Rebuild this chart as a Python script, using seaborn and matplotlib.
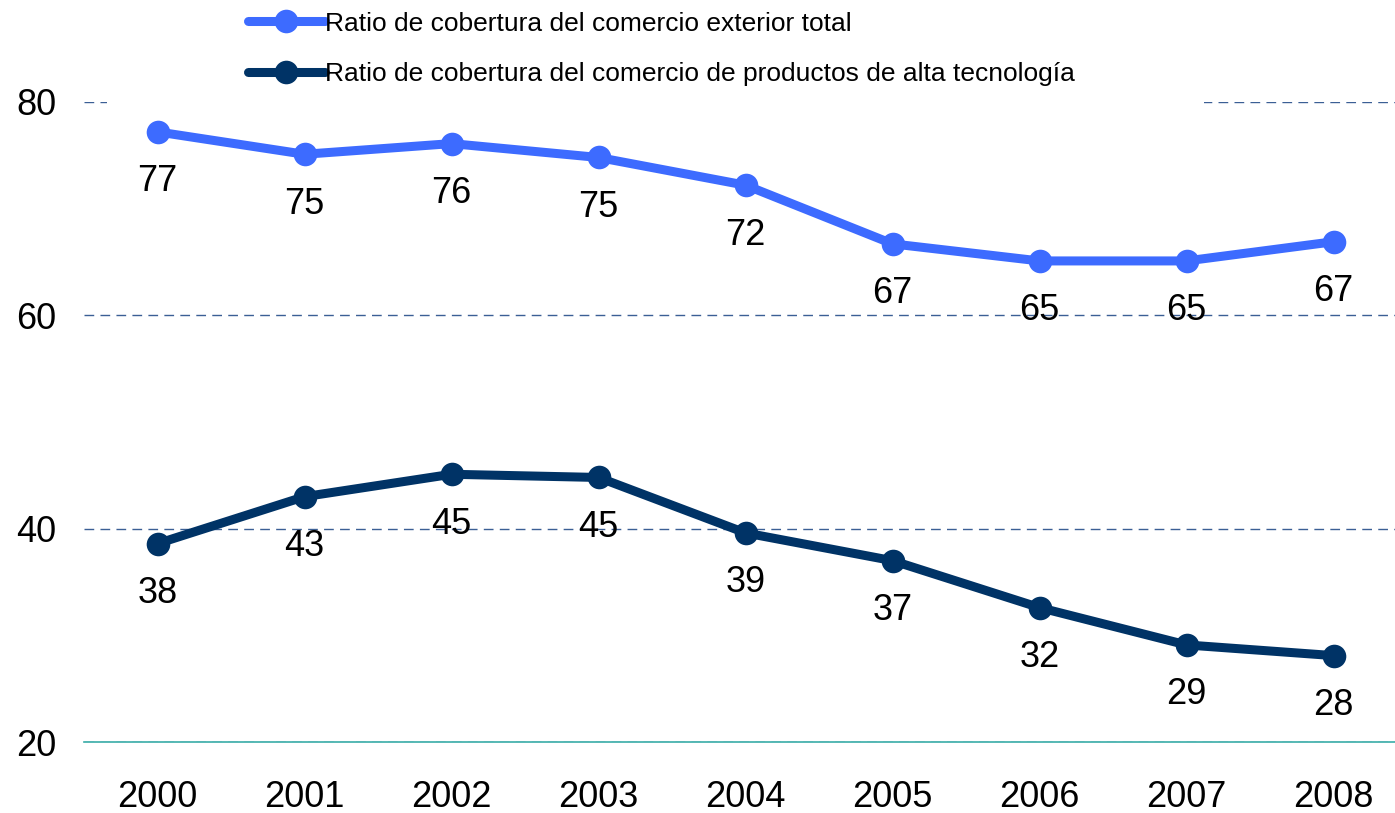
import matplotlib
matplotlib.use('Agg')
import matplotlib.pyplot as plt
from matplotlib.patches import Rectangle
import seaborn as sns
import pandas as pd

# datos
years = ['2000', '2001', '2002', '2003', '2004', '2005', '2006', '2007', '2008']
total = [77.2, 75.1, 76.1, 74.8, 72.2, 66.7, 65.1, 65.1, 66.9]
alta_tec = [38.6, 43.0, 45.1, 44.8, 39.6, 37.0, 32.6, 29.1, 28.1]
label_total = [77, 75, 76, 75, 72, 67, 65, 65, 67]
label_alta = [38, 43, 45, 45, 39, 37, 32, 29, 28]

s_total = 'Ratio de cobertura del comercio exterior total'
s_alta = 'Ratio de cobertura del comercio de productos de alta tecnología'

df = pd.DataFrame({
    'year': years * 2,
    'x': list(range(len(years))) * 2,
    'valor': total + alta_tec,
    'serie': [s_total] * len(years) + [s_alta] * len(years),
})

sns.set_theme(style='white')
plt.rcParams['font.family'] = ['Liberation Sans', 'DejaVu Sans']
plt.rcParams['text.color'] = 'black'

colores = {s_total: '#3D6BFF', s_alta: '#003366'}

fig = plt.figure(figsize=(13.95, 8.13), dpi=100)
ax = fig.add_axes([84 / 1395, 1 - 742 / 813, (1407 - 84) / 1395, (742 - 102) / 813])

sns.lineplot(data=df, x='x', y='valor', hue='serie', palette=colores, marker='o',
             markersize=17, markeredgewidth=0, linewidth=6.5, ax=ax, legend=True)

for i in range(len(years)):
    ax.annotate(str(label_total[i]), (i, total[i]), xytext=(0, -36), textcoords='offset points',
                ha='center', va='center', fontsize=26, color='black')
    ax.annotate(str(label_alta[i]), (i, alta_tec[i]), xytext=(0, -36), textcoords='offset points',
                ha='center', va='center', fontsize=26, color='black')

ax.set_xlim(-0.5, 8.5)
ax.set_ylim(20, 80)
ax.set_xticks(range(len(years)))
ax.set_xticklabels(years)
ax.set_yticks([20, 40, 60, 80])
ax.tick_params(axis='both', length=0, labelsize=26, colors='black')
ax.tick_params(axis='y', pad=20)
ax.tick_params(axis='x', pad=27)
ax.set_xlabel('')
ax.set_ylabel('')

for s in ['left', 'right', 'top']:
    ax.spines[s].set_visible(False)
ax.spines['bottom'].set_color('#3AADA8')
ax.spines['bottom'].set_linewidth(1.2)

ax.yaxis.grid(True, color='#3B5F95', linewidth=1.0, linestyle=(0, (7, 4.5)))
ax.set_axisbelow(True)

# fondo blanco de la leyenda que tapa la linea de 80
ax.add_patch(Rectangle(((107 - 84) / 1323, 0.97), (1204 - 107) / 1323, 0.06,
                       transform=ax.transAxes, facecolor='white', edgecolor='none',
                       zorder=1.5, clip_on=False))

h, l = ax.get_legend_handles_labels()
ax.legend_.remove()
fig.legend(h, l, loc='upper left', bbox_to_anchor=(237 / 1395, 1 - 1 / 813), frameon=False,
           fontsize=19, handlelength=2.95, handletextpad=0.0, labelspacing=1.0,
           borderaxespad=0, labelcolor='black')

fig.savefig('out.png', dpi=100, facecolor='white')
